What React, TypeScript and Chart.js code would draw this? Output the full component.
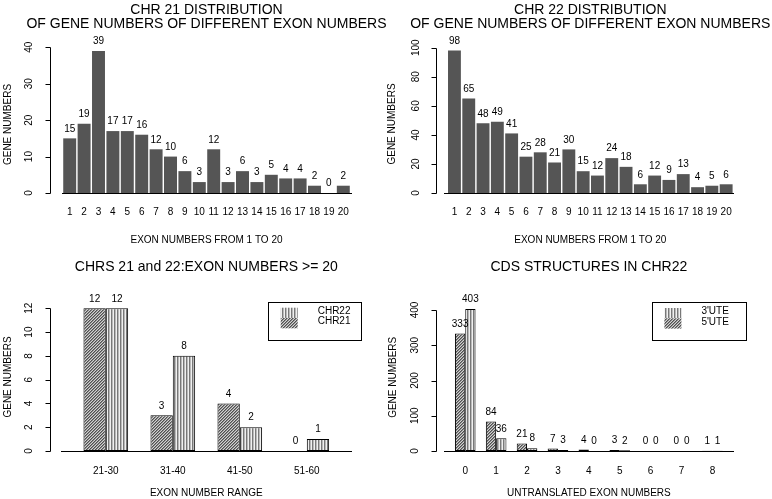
import { useEffect, useRef } from 'react';
import { Chart, registerables } from 'chart.js';

Chart.register(...registerables);

const FONT = '"Liberation Sans", Arial, Helvetica, sans-serif';

// ---------- data ----------
const exonLabels = ['1', '2', '3', '4', '5', '6', '7', '8', '9', '10', '11', '12', '13', '14', '15', '16', '17', '18', '19', '20'];
const chr21Genes = [15, 19, 39, 17, 17, 16, 12, 10, 6, 3, 12, 3, 6, 3, 5, 4, 4, 2, 0, 2];
const chr22Genes = [98, 65, 48, 49, 41, 25, 28, 21, 30, 15, 12, 24, 18, 6, 12, 9, 13, 4, 5, 6];

const rangeLabels = ['21-30', '31-40', '41-50', '51-60'];
const chr21Range = [12, 3, 4, 0];
const chr22Range = [12, 8, 2, 1];

const untranslatedLabels = ['0', '1', '2', '3', '4', '5', '6', '7', '8'];
const utr5Genes = [333, 84, 21, 7, 4, 3, 0, 0, 1];
const utr3Genes = [403, 36, 8, 3, 0, 2, 0, 0, 1];

const ticksChr21 = [0, 10, 20, 30, 40];
const ticksChr22 = [0, 20, 40, 60, 80, 100];
const ticksRange = [0, 2, 4, 6, 8, 10, 12];
const ticksUtr = [0, 100, 200, 300, 400];

type Hatch = 'diag' | 'vert';

type Panel = {
  left: number; top: number; width: number; height: number;
  area: { l: number; r: number; t: number; b: number };
  yMax: number; yTicks: number[];
  titles: { text: string; y: number }[];
  xLabels: string[]; xTitle: string; tickPad: number; xTitlePad: number;
  yAxisX: number; yLabelX: number; yTitleX: number; yTitleY: number;
  baseline: [number, number];
  solid: boolean;
  series: number[][];
  hatches: Hatch[];
  legend?: { x: number; y: number; w: number; h: number; items: { label: string; hatch: Hatch }[] };
};

const panels: Panel[] = [
  {
    left: 0, top: 0, width: 400, height: 250,
    area: { l: 62.5, r: 350.5, t: 47.3, b: 193 },
    yMax: 40, yTicks: ticksChr21,
    titles: [
      { text: 'CHR 21 DISTRIBUTION', y: 10 },
      { text: 'OF GENE NUMBERS OF DIFFERENT EXON NUMBERS', y: 24 },
    ],
    xLabels: exonLabels, xTitle: 'EXON NUMBERS FROM 1 TO 20', tickPad: 13.5, xTitlePad: 4,
    yAxisX: 50, yLabelX: 29.5, yTitleX: 8.7, yTitleY: 124.5,
    baseline: [62, 352],
    solid: true, series: [chr21Genes], hatches: [],
  },
  {
    left: 386, top: 0, width: 386, height: 250,
    area: { l: 61.3, r: 347.3, t: 47.7, b: 193 },
    yMax: 100, yTicks: ticksChr22,
    titles: [
      { text: 'CHR 22 DISTRIBUTION', y: 10 },
      { text: 'OF GENE NUMBERS OF DIFFERENT EXON NUMBERS', y: 24 },
    ],
    xLabels: exonLabels, xTitle: 'EXON NUMBERS FROM 1 TO 20', tickPad: 13.5, xTitlePad: 4,
    yAxisX: 50, yLabelX: 30, yTitleX: 6, yTitleY: 124,
    baseline: [58, 348],
    solid: true, series: [chr22Genes], hatches: [],
  },
  {
    left: 0, top: 250, width: 386, height: 249,
    area: { l: 72.3, r: 340.3, t: 58.3, b: 201 },
    yMax: 12, yTicks: ticksRange,
    titles: [{ text: 'CHRS 21 and 22:EXON NUMBERS >= 20', y: 16.7 }],
    xLabels: rangeLabels, xTitle: 'EXON NUMBER RANGE', tickPad: 14, xTitlePad: 0,
    yAxisX: 50, yLabelX: 29.5, yTitleX: 8.3, yTitleY: 127,
    baseline: [61, 352],
    solid: false, series: [chr21Range, chr22Range], hatches: ['diag', 'vert'],
    legend: {
      x: 268.3, y: 52, w: 92.7, h: 38,
      items: [{ label: 'CHR22', hatch: 'vert' }, { label: 'CHR21', hatch: 'diag' }],
    },
  },
  {
    left: 386, top: 250, width: 386, height: 249,
    area: { l: 63.8, r: 341.9, t: 60, b: 201 },
    yMax: 400, yTicks: ticksUtr,
    titles: [{ text: 'CDS STRUCTURES IN CHR22', y: 17 }],
    xLabels: untranslatedLabels, xTitle: 'UNTRANSLATED EXON NUMBERS', tickPad: 14, xTitlePad: 0,
    yAxisX: 50, yLabelX: 29.5, yTitleX: 7.7, yTitleY: 127.3,
    baseline: [58, 348],
    solid: false, series: [utr5Genes, utr3Genes], hatches: ['diag', 'vert'],
    legend: {
      x: 266, y: 52.3, w: 93.5, h: 37.7,
      items: [{ label: "3'UTE", hatch: 'vert' }, { label: "5'UTE", hatch: 'diag' }],
    },
  },
];

function makePattern(ctx: CanvasRenderingContext2D, kind: Hatch): CanvasPattern | string {
  const tile = document.createElement('canvas');
  tile.width = 3;
  tile.height = 3;
  const g = tile.getContext('2d');
  if (!g) return '#999';
  const img = g.createImageData(3, 3);
  const shades = kind === 'diag' ? [80, 140, 210] : [120, 185, 240];
  for (let y = 0; y < 3; y++) {
    for (let x = 0; x < 3; x++) {
      const k = kind === 'diag' ? (x + y) % 3 : x % 3;
      const i = (y * 3 + x) * 4;
      img.data[i] = shades[k];
      img.data[i + 1] = shades[k];
      img.data[i + 2] = shades[k];
      img.data[i + 3] = 255;
    }
  }
  g.putImageData(img, 0, 0);
  return ctx.createPattern(tile, 'repeat') || '#999';
}

function buildConfig(p: Panel, patterns: Record<Hatch, CanvasPattern | string>): any {
  const datasets = p.solid
    ? [{
        data: p.series[0],
        backgroundColor: '#555555',
        borderWidth: 0,
        barPercentage: 0.9,
        categoryPercentage: 1,
        clip: false,
      }]
    : p.series.map((s, i) => ({
        data: s,
        backgroundColor: patterns[p.hatches[i]],
        borderColor: '#000',
        borderWidth: 1,
        borderSkipped: false,
        barPercentage: 1,
        categoryPercentage: 2 / 3,
        clip: false,
      }));

  const decor = {
    id: 'decor',
    afterDraw(chart: any) {
      const ctx: CanvasRenderingContext2D = chart.ctx;
      const a = chart.chartArea;
      const ys = chart.scales.y;
      ctx.save();
      ctx.fillStyle = '#000';
      ctx.strokeStyle = '#000';
      ctx.lineWidth = 1;
      ctx.textAlign = 'center';
      ctx.textBaseline = 'middle';

      // titles
      ctx.font = `14px ${FONT}`;
      const cx = (a.left + a.right) / 2;
      p.titles.forEach((t) => ctx.fillText(t.text, cx, t.y));

      // baseline
      const y0 = Math.round(ys.getPixelForValue(0)) + 0.5;
      ctx.beginPath();
      ctx.moveTo(p.baseline[0], y0);
      ctx.lineTo(p.baseline[1], y0);
      ctx.stroke();

      // y axis
      const ax = p.yAxisX + 0.5;
      const tMin = p.yTicks[0];
      const tMax = p.yTicks[p.yTicks.length - 1];
      ctx.beginPath();
      ctx.moveTo(ax, Math.round(ys.getPixelForValue(tMax)) + 0.5);
      ctx.lineTo(ax, Math.round(ys.getPixelForValue(tMin)) + 0.5);
      p.yTicks.forEach((v) => {
        const py = Math.round(ys.getPixelForValue(v)) + 0.5;
        ctx.moveTo(ax - 5, py);
        ctx.lineTo(ax, py);
      });
      ctx.stroke();

      ctx.font = `10px ${FONT}`;
      p.yTicks.forEach((v) => {
        ctx.save();
        ctx.translate(p.yLabelX, ys.getPixelForValue(v));
        ctx.rotate(-Math.PI / 2);
        ctx.fillText(String(v), 0, 0);
        ctx.restore();
      });

      // y title
      ctx.save();
      ctx.translate(p.yTitleX, p.yTitleY);
      ctx.rotate(-Math.PI / 2);
      ctx.fillText('GENE NUMBERS', 0, 0);
      ctx.restore();

      // value labels
      chart.data.datasets.forEach((ds: any, i: number) => {
        const meta = chart.getDatasetMeta(i);
        meta.data.forEach((el: any, j: number) => {
          ctx.fillText(String(ds.data[j]), el.x, el.y - 9.5);
        });
      });

      // legend
      if (p.legend) {
        const L = p.legend;
        ctx.strokeRect(Math.round(L.x) + 0.5, Math.round(L.y) + 0.5, Math.round(L.w), Math.round(L.h));
        L.items.forEach((it, i) => {
          const sy = L.y + 5.7 + i * 10.3;
          ctx.fillStyle = patterns[it.hatch] as any;
          ctx.fillRect(L.x + 12.4, sy, 17, 10.3);
          ctx.fillStyle = '#000';
          ctx.textAlign = 'left';
          ctx.fillText(it.label, L.x + 49.4, sy + 5.15 - 1.5);
          ctx.textAlign = 'center';
        });
      }
      ctx.restore();
    },
  };

  return {
    type: 'bar',
    data: { labels: p.xLabels, datasets },
    options: {
      animation: false,
      responsive: false,
      devicePixelRatio: 1,
      layout: {
        padding: { left: p.area.l, right: p.width - p.area.r, top: p.area.t, bottom: 0 },
      },
      plugins: {
        legend: { display: false },
        tooltip: { enabled: false },
        title: { display: false },
      },
      scales: {
        x: {
          type: 'category',
          offset: true,
          grid: { display: false, drawTicks: false },
          border: { display: false },
          ticks: {
            color: '#000',
            font: { family: FONT, size: 10 },
            padding: p.tickPad,
            autoSkip: false,
            maxRotation: 0,
            minRotation: 0,
          },
          title: {
            display: true,
            text: p.xTitle,
            color: '#000',
            font: { family: FONT, size: 10 },
            padding: { top: 0, bottom: p.xTitlePad },
          },
          afterFit: (s: any) => {
            s.height = p.height - p.area.b;
          },
        },
        y: { display: false, min: 0, max: p.yMax },
      },
    },
    plugins: [decor],
  };
}

function ChartPanel({ p }: { p: Panel }) {
  const ref = useRef<HTMLCanvasElement>(null);
  useEffect(() => {
    const canvas = ref.current;
    if (!canvas) return;
    const ctx = canvas.getContext('2d');
    if (!ctx) return;
    const patterns: Record<Hatch, CanvasPattern | string> = {
      diag: makePattern(ctx, 'diag'),
      vert: makePattern(ctx, 'vert'),
    };
    const chart = new Chart(canvas, buildConfig(p, patterns));
    return () => chart.destroy();
  }, [p]);
  return (
    <canvas
      ref={ref}
      width={p.width}
      height={p.height}
      style={{ position: 'absolute', left: p.left, top: p.top, width: p.width, height: p.height }}
    />
  );
}

export default function App() {
  return (
    <div style={{ position: 'fixed', left: 0, top: 0, width: 772, height: 499, background: '#fff', overflow: 'hidden' }}>
      {panels.map((p, i) => (
        <ChartPanel key={i} p={p} />
      ))}
    </div>
  );
}
